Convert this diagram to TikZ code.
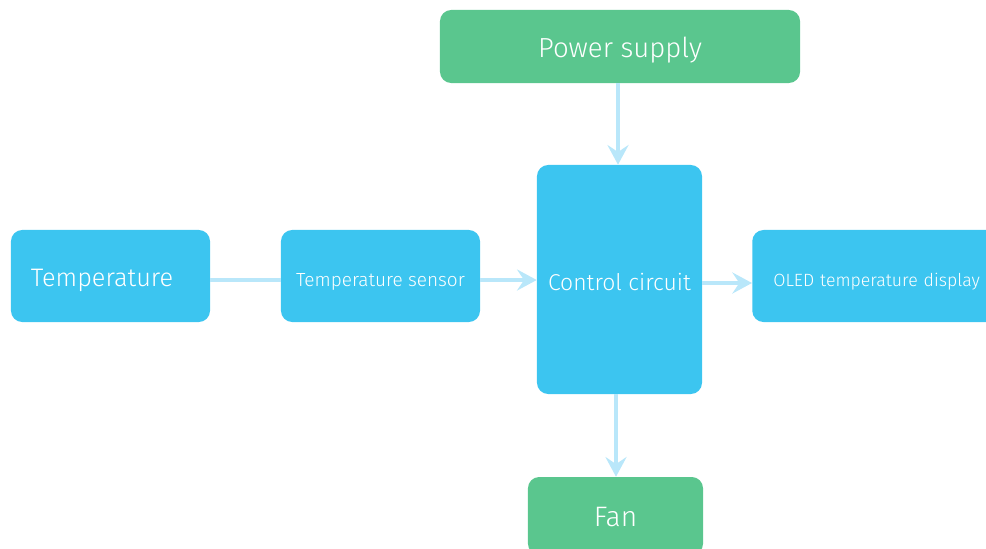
\documentclass[tikz,border=0pt]{standalone}
\usepackage{fontspec}
\setmainfont{Fira Sans Light}
\usetikzlibrary{arrows.meta,shapes}
\definecolor{boxblue}{HTML}{3CC5F0}
\definecolor{boxgreen}{HTML}{5AC68E}
\definecolor{linkblue}{HTML}{B9E7FA}
\tikzstyle{bbox}=[rectangle,rounded corners=8pt,fill=boxblue,text=white,inner sep=0pt,text height=15pt,text depth=0pt]
\tikzstyle{gbox}=[rectangle,rounded corners=8pt,fill=boxgreen,text=white,inner sep=0pt,text height=15pt,text depth=0pt]
\tikzstyle{link}=[-{Stealth[length=14pt,width=15pt,inset=5pt]}, line width=2.2pt, linkblue]

\begin{document}
\begin{tikzpicture}[x=0.025cm,y=-0.025cm]
\useasboundingbox (0,0) rectangle (986,548);
\clip (0,0) rectangle (986,548);
\node[gbox,minimum width=9cm,minimum height=1.825cm,font=\fontsize{19.6}{22}\selectfont] (P) at (620,46.5) {Power supply};
\node[bbox,minimum width=4.975cm,minimum height=2.3cm,font=\fontsize{18}{22}\selectfont] (T) at (110.5,276) {Temperature\hspace*{12pt}};
\node[bbox,minimum width=4.975cm,minimum height=2.3cm,font=\fontsize{13.5}{16}\selectfont] (S) at (380.5,276) {Temperature sensor};
\node[bbox,minimum width=4.125cm,minimum height=5.725cm,font=\fontsize{16.3}{19}\selectfont] (C) at (619.5,279.5) {Control circuit};
\node[bbox,minimum width=8cm,minimum height=2.3cm,text width=6.95cm,align=left,font=\fontsize{12.6}{16}\selectfont,anchor=west] (O) at (752,276) {OLED temperature display};
\node[gbox,minimum width=4.375cm,minimum height=1.95cm,font=\fontsize{20}{22}\selectfont] (F) at (615.5,516) {Fan};
\draw[link] (P.south -| 618,0) -- (C.north -| 618,0);
\draw[line width=2.2pt,linkblue] (T.east |- 0,280) -- (S.west |- 0,280);
\draw[link] (S.east |- 0,280) -- (C.west |- 0,280);
\draw[link] (C.east |- 0,283) -- (O.west |- 0,283);
\draw[link] (C.south -| 616,0) -- (F.north -| 616,0);
\end{tikzpicture}
\end{document}
